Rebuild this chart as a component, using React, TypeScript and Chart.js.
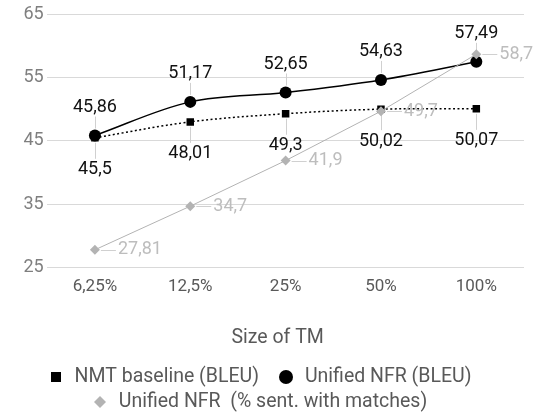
import React, { useEffect, useRef } from 'react';
import { Chart, registerables } from 'chart.js';

Chart.register(...registerables);

const categories = ['6,25%', '12,5%', '25%', '50%', '100%'];
const nmtBaseline = [45.5, 48.01, 49.3, 50.02, 50.07];
const unifiedNfrBleu = [45.86, 51.17, 52.65, 54.63, 57.49];
const unifiedNfrMatches = [27.81, 34.7, 41.9, 49.7, 58.7];
const seriesNames = ['NMT baseline (BLEU)', 'Unified NFR (BLEU)', 'Unified NFR  (% sent. with matches)'];
const yTicks = [25, 35, 45, 55, 65];
const xAxisTitle = 'Size of TM';

const FONT = 'Roboto';
const GRAY = '#b3b3b3';

function makeMarker(shape: string, size: number, color: string) {
  const c = document.createElement('canvas');
  c.width = size;
  c.height = size;
  const g = c.getContext('2d')!;
  g.fillStyle = color;
  if (shape === 'square') {
    g.fillRect(0, 0, size, size);
  } else if (shape === 'circle') {
    g.beginPath();
    g.arc(size / 2, size / 2, size / 2, 0, Math.PI * 2);
    g.fill();
  } else {
    g.beginPath();
    g.moveTo(size / 2, 0);
    g.lineTo(size, size / 2);
    g.lineTo(size / 2, size);
    g.lineTo(0, size / 2);
    g.closePath();
    g.fill();
  }
  return c;
}

const fmt = (v: number) => String(v).replace('.', ',');

const labelPlugin = {
  id: 'valueLabels',
  beforeDatasetsDraw(chart: any) {
    const ctx = chart.ctx;
    ctx.save();
    ctx.strokeStyle = '#d0d0d0';
    ctx.lineWidth = 1;
    chart.data.datasets.forEach((ds: any, di: number) => {
      const meta = chart.getDatasetMeta(di);
      meta.data.forEach((pt: any) => {
        ctx.beginPath();
        const px = Math.round(pt.x) + 0.5;
        if (ds.labelPos === 'above') {
          const ly = pt.y - 28;
          ctx.moveTo(px, ly + 9);
          ctx.lineTo(px, pt.y - 7);
        } else if (ds.labelPos === 'below') {
          const ly = pt.y + 32;
          ctx.moveTo(px, pt.y + 5);
          ctx.lineTo(px, ly - 11);
        } else {
          const py = Math.round(pt.y) + 0.5;
          ctx.moveTo(pt.x + 6, py);
          ctx.lineTo(pt.x + 21, py);
        }
        ctx.stroke();
      });
    });
    ctx.restore();
  },
  afterDatasetsDraw(chart: any) {
    const ctx = chart.ctx;
    ctx.save();
    ctx.font = `18px ${FONT}`;
    ctx.textBaseline = 'middle';
    chart.data.datasets.forEach((ds: any, di: number) => {
      const meta = chart.getDatasetMeta(di);
      meta.data.forEach((pt: any, i: number) => {
        const txt = fmt(ds.data[i]);
        if (ds.labelPos === 'above') {
          ctx.fillStyle = '#111';
          ctx.textAlign = 'center';
          ctx.fillText(txt, pt.x, pt.y - 28);
        } else if (ds.labelPos === 'below') {
          ctx.fillStyle = '#111';
          ctx.textAlign = 'center';
          ctx.fillText(txt, pt.x, pt.y + 32);
        } else {
          ctx.fillStyle = '#bdbdbd';
          ctx.textAlign = 'left';
          ctx.fillText(txt, pt.x + 23, pt.y);
        }
      });
    });
    ctx.restore();
  },
};

function makeLegendPlugin(markers: HTMLCanvasElement[]) {
  return {
    id: 'titleAndLegend',
    afterDraw(chart: any) {
      const ctx = chart.ctx;
      const W = chart.width;
      const H = chart.height;
      ctx.save();
      ctx.textBaseline = 'middle';
      ctx.font = `19.5px ${FONT}`;
      ctx.fillStyle = '#595959';
      ctx.textAlign = 'center';
      const area = chart.chartArea;
      ctx.fillText(xAxisTitle, (area.left + area.right) / 2 - 8, H - 76);

      const rows = [[0, 1], [2]];
      const rowY = [H - 37, H - 12];
      const box = 19;
      const gapText = 9;
      const itemGap = 18;
      ctx.textAlign = 'left';
      rows.forEach((row, r) => {
        const widths = row.map((i) => box + gapText + ctx.measureText(seriesNames[i]).width);
        const total = widths.reduce((a, b) => a + b, 0) + itemGap * (row.length - 1);
        let x = W / 2 - 9 - total / 2;
        row.forEach((i, k) => {
          const m = markers[i];
          ctx.drawImage(m, Math.round(x + box / 2 - m.width / 2), Math.round(rowY[r] - m.height / 2));
          ctx.fillText(seriesNames[i], x + box + gapText, rowY[r]);
          x += widths[k] + itemGap;
        });
      });
      ctx.restore();
    },
  };
}

export default function App() {
  const ref = useRef<HTMLCanvasElement | null>(null);

  useEffect(() => {
    document.body.style.margin = '0';
    const markers = [
      makeMarker('square', 10, '#000'),
      makeMarker('circle', 14, '#000'),
      makeMarker('diamond', 12, GRAY),
    ];
    const chart = new Chart(ref.current!, {
      type: 'line',
      data: {
        labels: categories,
        datasets: [
          {
            label: seriesNames[0],
            data: nmtBaseline,
            borderColor: '#000',
            backgroundColor: '#000',
            borderWidth: 1.5,
            borderDash: [2, 2.5],
            pointStyle: 'rect',
            pointRadius: 5.3,
            pointBorderWidth: 0,
            pointBackgroundColor: '#000',
            tension: 0.35,
            order: 2,
            labelPos: 'below',
          } as any,
          {
            label: seriesNames[1],
            data: unifiedNfrBleu,
            borderColor: '#000',
            backgroundColor: '#000',
            borderWidth: 1.5,
            pointStyle: 'circle',
            pointRadius: 6,
            pointBorderWidth: 0,
            pointBackgroundColor: '#000',
            tension: 0.35,
            order: 1,
            labelPos: 'above',
          } as any,
          {
            label: seriesNames[2],
            data: unifiedNfrMatches,
            borderColor: GRAY,
            backgroundColor: GRAY,
            borderWidth: 1,
            pointStyle: 'rectRot',
            pointRadius: 5,
            pointBorderWidth: 0,
            pointBackgroundColor: GRAY,
            tension: 0,
            order: 0,
            labelPos: 'right',
          } as any,
        ],
      },
      options: {
        responsive: false,
        animation: false,
        events: [],
        layout: { padding: { left: 20, right: 12, top: 2, bottom: 108 } },
        scales: {
          x: {
            offset: true,
            grid: { display: false, drawTicks: false },
            border: { display: false },
            ticks: { color: '#595959', font: { family: FONT, size: 17 }, padding: 9 },
          },
          y: {
            min: 25,
            max: 65,
            afterBuildTicks: (axis: any) => {
              axis.ticks = yTicks.map((v) => ({ value: v }));
            },
            ticks: { color: '#7f7f7f', font: { family: FONT, size: 18 }, padding: 3.5 },
            grid: { color: '#d9d9d9', drawTicks: false, lineWidth: 1 },
            border: { display: false },
          },
        },
        plugins: {
          tooltip: { enabled: false },
          legend: { display: false },
        },
      },
      plugins: [labelPlugin, makeLegendPlugin(markers)],
    });
    return () => chart.destroy();
  }, []);

  return (
    <div style={{ width: 536, height: 414 }}>
      <canvas ref={ref} width={536} height={414} />
    </div>
  );
}
